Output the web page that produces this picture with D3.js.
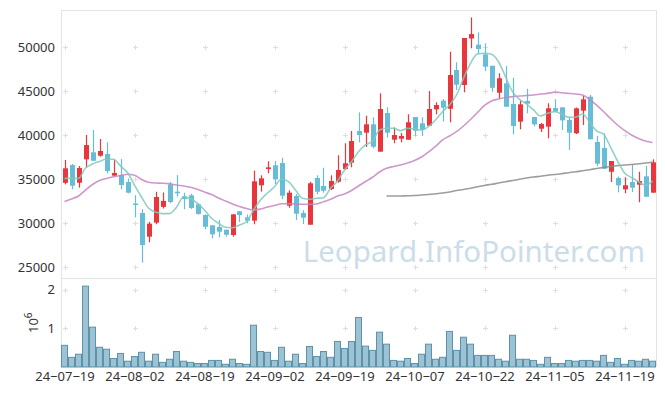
<!DOCTYPE html>
<html>
<head>
<meta charset="utf-8">
<script src="https://cdn.jsdelivr.net/npm/d3@7"></script>
<style>
  body { margin: 0; background: #fff; }
  svg { display: block; font-family: "Noto Sans", "Open Sans", sans-serif; }
</style>
</head>
<body>
<div id="chart"></div>
<script>
// daily candles, trading days only
const dates = [
  "24-07-19","24-07-22","24-07-23","24-07-24","24-07-25","24-07-26","24-07-29","24-07-30","24-07-31","24-08-01",
  "24-08-02","24-08-05","24-08-06","24-08-07","24-08-08","24-08-09","24-08-12","24-08-13","24-08-14","24-08-16",
  "24-08-19","24-08-20","24-08-21","24-08-22","24-08-23","24-08-26","24-08-27","24-08-28","24-08-29","24-08-30",
  "24-09-02","24-09-03","24-09-04","24-09-05","24-09-06","24-09-09","24-09-10","24-09-11","24-09-12","24-09-13",
  "24-09-19","24-09-20","24-09-23","24-09-24","24-09-25","24-09-26","24-09-27","24-09-30","24-10-02","24-10-04",
  "24-10-07","24-10-08","24-10-10","24-10-11","24-10-14","24-10-15","24-10-16","24-10-17","24-10-18","24-10-21",
  "24-10-22","24-10-23","24-10-24","24-10-25","24-10-28","24-10-29","24-10-30","24-10-31","24-11-01","24-11-04",
  "24-11-05","24-11-06","24-11-07","24-11-08","24-11-11","24-11-12","24-11-13","24-11-14","24-11-15","24-11-18",
  "24-11-19","24-11-20","24-11-21","24-11-22","24-11-25"
];

const open = [
  34600,36620,34610,37270,38070,37680,37880,35410,35490,34690,
  32250,31170,28480,30070,31870,34430,33590,33070,33180,32160,
  30940,29770,29580,29270,28670,31360,30680,30300,34320,36170,
  36590,36850,32000,33100,31170,29840,35150,34240,33900,34730,
  36170,36890,40490,40300,41250,38140,42530,39500,39610,39500,
  42080,41360,41090,42950,43930,43020,47420,45720,51000,50300,
  49200,47900,44840,45900,43560,41550,43900,42080,40750,40980,
  43100,43180,41740,40230,42800,44390,39240,38560,35860,35150,
  33860,34690,34390,35340,33480
];
const high = [
  37200,36740,36510,40030,40600,39580,39200,37270,37300,35100,
  33200,31590,30180,33590,33500,34690,35470,33480,33360,32270,
  31020,29800,30380,29300,31060,31400,31000,35980,35450,37050,
  37080,37450,33750,33330,31480,34730,35450,36320,35450,37730,
  39090,40490,42610,42230,42050,44770,43180,40910,40260,42390,
  42080,42050,45030,43750,44130,49500,48300,51060,53400,51700,
  50450,47900,47050,47880,46550,43930,45300,42080,41400,43640,
  44090,43180,42100,43150,44470,44580,39950,40230,37080,35300,
  35230,36700,35860,36510,37270
];
const low = [
  34430,33860,34050,36360,37110,37570,35680,35380,33860,33400,
  30680,25520,27840,29890,31680,32270,33050,31590,31630,30980,
  29320,28300,28410,28480,28480,30150,30000,29890,33590,35680,
  34470,32730,31770,30380,29920,29840,33300,33480,33780,34610,
  36060,36360,39200,38670,38520,38140,39770,39090,39200,39500,
  39950,39920,41090,42390,41590,41480,45150,44890,49890,49320,
  47300,44950,44200,43250,40110,40680,42500,41020,40380,39660,
  42680,40600,38330,40150,41170,39550,36510,36200,34690,33520,
  33410,33560,32390,33020,33480
];
const close = [
  36250,34270,36280,38900,37110,38220,35940,35720,34350,33480,
  32190,27530,29960,32990,32550,32420,33410,32760,31740,31060,
  29610,28750,29050,28700,31020,30940,30300,34770,35110,36360,
  35030,33140,33480,31090,30640,34550,33590,33700,34810,36060,
  36820,39350,40030,41250,38700,42990,40300,40030,39920,41480,
  40520,40600,42990,43440,43140,46850,45750,51060,51500,49800,
  47800,45400,46480,43250,41060,43520,43590,41250,41280,43070,
  42680,41700,40300,43070,44090,39550,36770,36200,37080,34320,
  34320,34050,34810,33020,36930
];
const volume = [
  560000,250000,330000,2090000,1030000,510000,460000,220000,350000,150000,
  270000,380000,150000,330000,120000,200000,400000,150000,120000,90000,
  90000,170000,170000,70000,200000,90000,70000,1080000,400000,380000,
  170000,510000,150000,330000,90000,530000,270000,400000,250000,660000,
  480000,660000,1280000,540000,430000,900000,590000,170000,150000,220000,
  90000,330000,590000,200000,250000,920000,430000,770000,590000,300000,
  300000,300000,200000,150000,820000,200000,200000,170000,70000,250000,
  90000,90000,170000,150000,170000,170000,150000,300000,120000,220000,
  70000,170000,150000,200000,150000
];

// moving averages as drawn
const ma5 = [
  35110,35110,35110,36280,36740,37020,37310,37270,36510,35770,
  34350,32990,31740,31280,31100,31100,31820,32990,32800,32270,
  31510,30570,30000,29550,29500,29810,30180,31510,32650,33440,
  34160,35030,34730,33780,32840,32730,32840,32910,33980,34810,
  36060,37000,38140,38900,39350,40600,40800,40800,40520,40800,
  40720,40600,40980,41740,42680,43440,44580,46480,48180,49250,
  49320,49200,48360,46660,44960,44090,43560,42880,42190,42500,
  42680,42420,42050,42050,42420,41500,40500,40150,38670,37080,
  35720,35200,34730,34300,34800
];
const ma20 = [
  32460,32760,33100,33780,34410,34860,35090,35300,35430,35570,
  35460,34980,34660,34580,34560,34500,34350,34240,34090,33860,
  33560,33270,32880,32530,32190,31910,31680,31510,31630,31850,
  32020,32230,32230,32190,32160,32160,32190,32460,32730,33100,
  33330,33730,34240,34750,35230,35830,36250,36460,36630,36850,
  37140,37530,38100,38730,39470,39920,40410,41060,41800,42590,
  43390,43900,44130,44300,44390,44470,44520,44580,44690,44770,
  44890,44840,44770,44690,44580,44070,43440,42710,41910,41170,
  40550,40030,39640,39350,39180
];
const maLong = [
  null,null,null,null,null,null,null,null,null,null,
  null,null,null,null,null,null,null,null,null,null,
  null,null,null,null,null,null,null,null,null,null,
  null,null,null,null,null,null,null,null,null,null,
  null,null,null,null,null,null,33100,33100,33100,33130,
  33160,33220,33270,33350,33440,33560,33730,33840,33990,34150,
  34300,34430,34580,34720,34860,35000,35150,35260,35350,35460,
  35550,35640,35750,35850,35970,36090,36220,36340,36460,36550,
  36630,36680,36760,36850,36970
];

const priceTicks = [25000, 30000, 35000, 40000, 45000, 50000];
const volTicks = [1000000, 2000000];
const dateTickIdx = [0, 10, 20, 30, 40, 50, 60, 70, 80];

const W = 665, H = 396;
const left = 61, right = 656;
const priceTop = 10, priceBottom = 278;
const volTop = 278, volBottom = 367;

const svg = d3.select("#chart").append("svg")
    .attr("width", W)
    .attr("height", H);

const x = d3.scaleLinear().domain([-0.5, dates.length - 0.5]).range([left, right]);
const y = d3.scaleLinear().domain([23784, 54240]).range([priceBottom, priceTop]);
const yv = d3.scaleLinear().domain([0, 2300000]).range([volBottom, volTop]);

// frame
const frame = svg.append("g").attr("stroke", "#e3e3e3").attr("fill", "none");
frame.append("line").attr("x1", left).attr("x2", right).attr("y1", priceTop + 0.5).attr("y2", priceTop + 0.5);
frame.append("line").attr("x1", left).attr("x2", right).attr("y1", priceBottom + 0.5).attr("y2", priceBottom + 0.5);
frame.append("line").attr("x1", right + 0.5).attr("x2", right + 0.5).attr("y1", priceTop).attr("y2", volBottom);
frame.append("line").attr("x1", left + 0.5).attr("x2", left + 0.5).attr("y1", priceTop).attr("y2", volBottom);

// little + marks at the grid crossings
const crossY = priceTicks.map(d => y(d)).concat(volTicks.map(d => yv(d)));
const crosses = svg.append("g").attr("stroke", "#dedede").attr("stroke-width", 1);
dateTickIdx.forEach(i => {
  crossY.forEach(cy => {
    const cx = Math.round(x(i)) + 0.5;
    cy = Math.round(cy) + 0.5;
    crosses.append("line").attr("x1", cx - 2.5).attr("x2", cx + 2.5).attr("y1", cy).attr("y2", cy);
    crosses.append("line").attr("x1", cx).attr("x2", cx).attr("y1", cy - 2.5).attr("y2", cy + 2.5);
  });
});

// watermark
svg.append("text")
    .attr("x", 645)
    .attr("y", 262)
    .attr("text-anchor", "end")
    .attr("fill", "#cbdde8")
    .style("font-size", "29.5px")
    .text("Leopard.InfoPointer.com");

// y axis labels
const yAxis = svg.append("g")
    .attr("transform", `translate(${left},0)`)
    .call(d3.axisLeft(y).tickValues(priceTicks).tickSize(0).tickPadding(6).tickFormat(d3.format("d")));
yAxis.select(".domain").remove();
yAxis.selectAll("text").attr("fill", "#333").style("font-size", "13px").style("font-family", "Noto Sans");

const vAxis = svg.append("g")
    .attr("transform", `translate(${left},0)`)
    .call(d3.axisLeft(yv).tickValues(volTicks).tickSize(0).tickPadding(6).tickFormat(d => d / 1e6));
vAxis.select(".domain").remove();
vAxis.selectAll("text").attr("fill", "#333").style("font-size", "13px").style("font-family", "Noto Sans");

// 10^6 label
const expLabel = svg.append("text")
    .attr("transform", "translate(38,333) rotate(-90)")
    .attr("fill", "#333")
    .style("font-size", "13px");
expLabel.append("tspan").text("10");
expLabel.append("tspan").attr("dy", -6).style("font-size", "10px").text("6");

// x axis labels
const xAxis = svg.append("g")
    .attr("transform", `translate(0,${volBottom})`)
    .call(d3.axisBottom(x).tickValues(dateTickIdx).tickSize(0).tickPadding(5)
      .tickFormat(i => dates[i].replace(/-/g, "\u2212")));
xAxis.select(".domain").remove();
xAxis.selectAll("text").attr("fill", "#333").style("font-size", "13px").style("font-family", "Noto Sans");

// volume bars
const barW = x(1) - x(0);
svg.append("g").selectAll("rect")
    .data(volume)
    .enter()
    .append("rect")
      .attr("x", (d, i) => x(i) - barW / 2 + 0.5)
      .attr("y", d => yv(d))
      .attr("width", barW - 1)
      .attr("height", d => volBottom - yv(d))
      .attr("fill", "#9cc2d3")
      .attr("stroke", "#5b93ab")
      .attr("stroke-width", 1);

// candles
const up = "#e8363c", down = "#67bdd7";
const candles = svg.append("g").selectAll("g")
    .data(dates.map((d, i) => ({ i, o: open[i], h: high[i], l: low[i], c: close[i] })))
    .enter()
    .append("g");

candles.append("line")
    .attr("x1", d => Math.round(x(d.i)) + 0.5)
    .attr("x2", d => Math.round(x(d.i)) + 0.5)
    .attr("y1", d => y(d.h))
    .attr("y2", d => y(d.l))
    .attr("stroke", d => d.c >= d.o ? up : down)
    .attr("stroke-width", 1.2);

candles.append("rect")
    .attr("x", d => Math.round(x(d.i)) - 2)
    .attr("y", d => y(Math.max(d.o, d.c)))
    .attr("width", 5)
    .attr("height", d => Math.max(1.5, Math.abs(y(d.o) - y(d.c))))
    .attr("fill", d => d.c >= d.o ? up : down);

// moving average lines
const line = d3.line()
    .defined(d => d != null)
    .x((d, i) => x(i))
    .y(d => y(d))
    .curve(d3.curveMonotoneX);

svg.append("path").datum(ma20)
    .attr("d", line).attr("fill", "none")
    .attr("stroke", "#c785c2").attr("stroke-width", 1.6).attr("stroke-opacity", 0.85);
svg.append("path").datum(maLong)
    .attr("d", line).attr("fill", "none")
    .attr("stroke", "#8c8c8c").attr("stroke-width", 1.6).attr("stroke-opacity", 0.85);
svg.append("path").datum(ma5)
    .attr("d", line).attr("fill", "none")
    .attr("stroke", "#80c9bd").attr("stroke-width", 1.6).attr("stroke-opacity", 0.85);
</script>
</body>
</html>
